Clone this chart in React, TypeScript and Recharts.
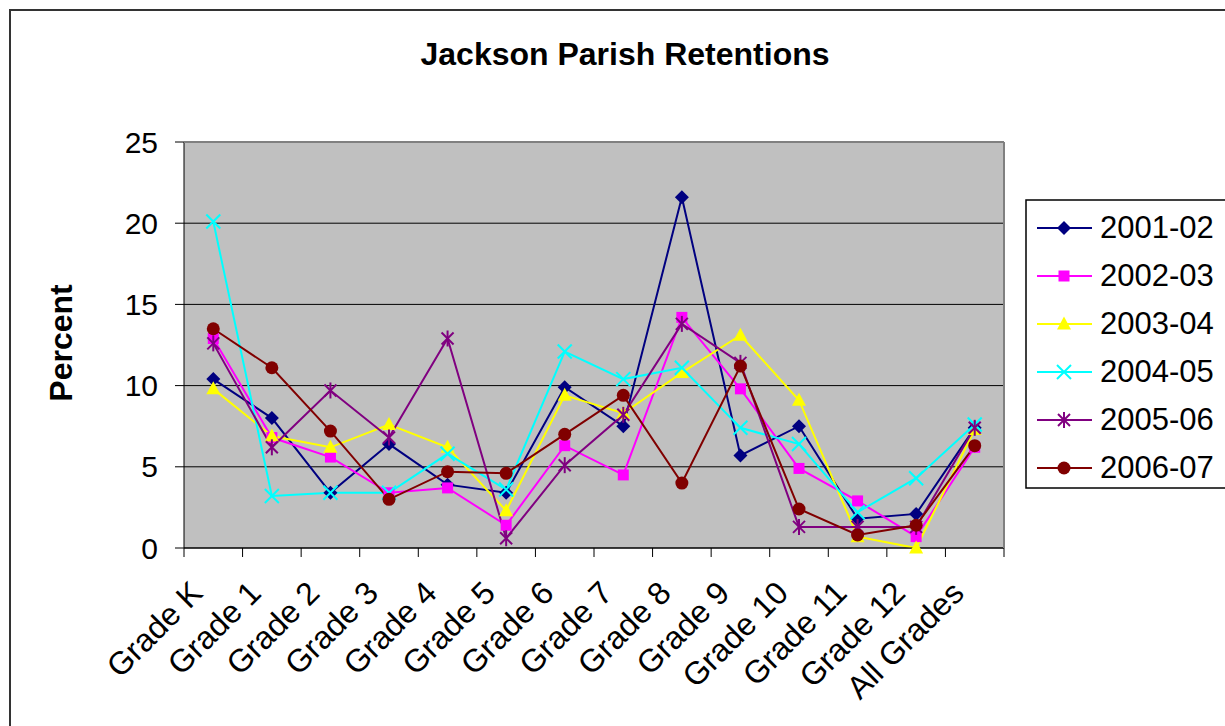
import React from 'react'
import { LineChart, Line, XAxis, YAxis, CartesianGrid } from 'recharts'

// Retention percentages per grade, one list per school year
const grades = [
  'Grade K', 'Grade 1', 'Grade 2', 'Grade 3', 'Grade 4', 'Grade 5', 'Grade 6',
  'Grade 7', 'Grade 8', 'Grade 9', 'Grade 10', 'Grade 11', 'Grade 12', 'All Grades',
]
const y2001 = [10.4, 8.0, 3.4, 6.4, 3.9, 3.4, 9.9, 7.5, 21.6, 5.7, 7.5, 1.8, 2.1, 7.4]
const y2002 = [12.9, 6.8, 5.6, 3.4, 3.7, 1.4, 6.3, 4.5, 14.2, 9.8, 4.9, 2.9, 0.7, 6.2]
const y2003 = [9.8, 6.9, 6.2, 7.6, 6.2, 2.3, 9.4, 8.3, 10.8, 13.1, 9.1, 0.7, 0.0, 7.3]
const y2004 = [20.1, 3.2, 3.4, 3.4, 5.8, 3.6, 12.1, 10.4, 11.1, 7.4, 6.4, 2.2, 4.3, 7.6]
const y2005 = [12.6, 6.2, 9.7, 6.8, 12.9, 0.6, 5.1, 8.2, 13.8, 11.4, 1.3, 1.3, 1.3, 7.4]
const y2006 = [13.5, 11.1, 7.2, 3.0, 4.7, 4.6, 7.0, 9.4, 4.0, 11.2, 2.4, 0.8, 1.4, 6.3]
const yTicks = [0, 5, 10, 15, 20, 25]

const series = [
  { key: 'y2001', name: '2001-02', color: '#000080', shape: 'diamond', values: y2001 },
  { key: 'y2002', name: '2002-03', color: '#FF00FF', shape: 'square', values: y2002 },
  { key: 'y2003', name: '2003-04', color: '#FFFF00', shape: 'triangle', values: y2003 },
  { key: 'y2004', name: '2004-05', color: '#00FFFF', shape: 'x', values: y2004 },
  { key: 'y2005', name: '2005-06', color: '#800080', shape: 'star', values: y2005 },
  { key: 'y2006', name: '2006-07', color: '#800000', shape: 'circle', values: y2006 },
]

const data = grades.map((grade, i) => {
  const row: Record<string, string | number> = { grade }
  series.forEach(s => {
    row[s.key] = s.values[i]
  })
  return row
})

const W = 1225
const H = 726
const LEFT = 184
const TOP = 142
const RIGHT = 1004
const BOTTOM = 548
const FONT = 'Arial, "Liberation Sans", sans-serif'
const band = (RIGHT - LEFT) / grades.length

function Marker({ shape, cx, cy, color }: { shape: string; cx: number; cy: number; color: string }) {
  if (cx == null || cy == null) return null
  switch (shape) {
    case 'diamond':
      return <polygon points={`${cx},${cy - 7} ${cx + 7},${cy} ${cx},${cy + 7} ${cx - 7},${cy}`} fill={color} />
    case 'square':
      return <rect x={cx - 5.5} y={cy - 5.5} width={11} height={11} fill={color} />
    case 'triangle':
      return <polygon points={`${cx},${cy - 7.5} ${cx + 7},${cy + 5.5} ${cx - 7},${cy + 5.5}`} fill={color} />
    case 'x':
      return (
        <g stroke={color} strokeWidth={2}>
          <line x1={cx - 7} y1={cy - 7} x2={cx + 7} y2={cy + 7} />
          <line x1={cx - 7} y1={cy + 7} x2={cx + 7} y2={cy - 7} />
        </g>
      )
    case 'star':
      return (
        <g stroke={color} strokeWidth={2}>
          <line x1={cx - 6} y1={cy - 6} x2={cx + 6} y2={cy + 6} />
          <line x1={cx - 6} y1={cy + 6} x2={cx + 6} y2={cy - 6} />
          <line x1={cx} y1={cy - 8} x2={cx} y2={cy + 8} />
        </g>
      )
    default:
      return <circle cx={cx} cy={cy} r={6.5} fill={color} />
  }
}

function GradeTick(props: any) {
  const { x, y, payload, index } = props
  const tx = x - 9
  const ty = y + 47
  return (
    <g>
      <line x1={x - band / 2} y1={y} x2={x - band / 2} y2={y + 9} stroke="#000" />
      {index === grades.length - 1 && (
        <line x1={x + band / 2} y1={y} x2={x + band / 2} y2={y + 9} stroke="#000" />
      )}
      <text
        x={tx}
        y={ty}
        transform={`rotate(-45, ${tx}, ${ty})`}
        textAnchor="end"
        fontSize={32}
        fontFamily={FONT}
        fill="#000"
      >
        {payload.value}
      </text>
    </g>
  )
}

export default function App() {
  return (
    <div style={{ position: 'absolute', left: 0, top: 0, width: W, height: H, overflow: 'hidden', background: '#fff' }}>
      <LineChart
        width={W}
        height={H}
        data={data}
        margin={{ top: TOP, right: W - RIGHT, left: 0, bottom: 0 }}
      >
        <CartesianGrid vertical={false} stroke="#000" fill="#C0C0C0" />
        <XAxis
          dataKey="grade"
          scale="band"
          height={H - BOTTOM}
          axisLine={{ stroke: '#000' }}
          tickLine={false}
          tickSize={0}
          tickMargin={0}
          interval={0}
          tick={<GradeTick />}
        />
        <YAxis
          width={LEFT}
          domain={[0, 25]}
          ticks={yTicks}
          axisLine={{ stroke: '#000' }}
          tickLine={{ stroke: '#000' }}
          tickSize={9}
          tickMargin={17}
          tick={{ fontSize: 30, fontFamily: FONT, fill: '#000' }}
        />
        {series.map(s => (
          <Line
            key={s.key}
            dataKey={s.key}
            name={s.name}
            stroke={s.color}
            strokeWidth={2}
            isAnimationActive={false}
            activeDot={false}
            dot={(p: any) => (
              <Marker key={`${s.key}-${p.index}`} shape={s.shape} cx={p.cx} cy={p.cy} color={s.color} />
            )}
          />
        ))}
      </LineChart>

      <svg
        width={W}
        height={H}
        style={{ position: 'absolute', left: 0, top: 0, pointerEvents: 'none' }}
      >
        {/* outer chart border, cut off on the right and bottom */}
        <rect x={10} y={10} width={W + 20} height={H + 20} fill="none" stroke="#333" strokeWidth={2} />
        {/* plot area frame */}
        <line x1={LEFT} y1={TOP} x2={RIGHT} y2={TOP} stroke="#808080" strokeWidth={2} />
        <line x1={RIGHT} y1={TOP} x2={RIGHT} y2={BOTTOM} stroke="#808080" strokeWidth={2} />

        <text x={625} y={65} textAnchor="middle" fontSize={32} fontWeight="bold" fontFamily={FONT}>
          Jackson Parish Retentions
        </text>
        <text
          x={72}
          y={343}
          transform="rotate(-90, 72, 343)"
          textAnchor="middle"
          fontSize={32}
          fontWeight="bold"
          fontFamily={FONT}
        >
          Percent
        </text>

        {/* legend */}
        <rect x={1026} y={200} width={240} height={288} fill="#fff" stroke="#000" strokeWidth={1.5} />
        {series.map((s, i) => {
          const cy = 228 + i * 48
          return (
            <g key={s.key}>
              <line x1={1037} y1={cy} x2={1092} y2={cy} stroke={s.color} strokeWidth={2} />
              <Marker shape={s.shape} cx={1064} cy={cy} color={s.color} />
              <text x={1100} y={cy + 10} fontSize={31} fontFamily={FONT} fill="#000">
                {s.name}
              </text>
            </g>
          )
        })}
      </svg>
    </div>
  )
}
